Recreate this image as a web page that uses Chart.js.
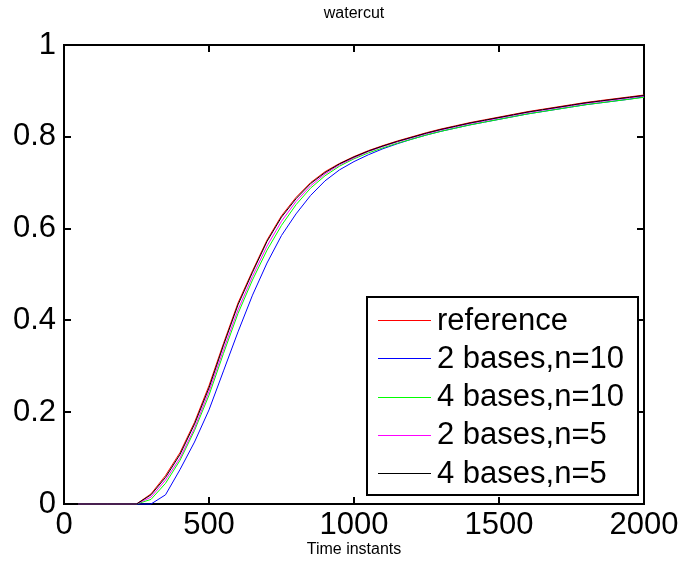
<!DOCTYPE html>
<html>
<head>
<meta charset="utf-8">
<script src="https://cdn.jsdelivr.net/npm/chart.js@4/dist/chart.umd.min.js"></script>
<style>
html,body{margin:0;padding:0;background:#fff;}
canvas{display:block;}
</style>
</head>
<body>
<canvas id="c" width="685" height="570"></canvas>
<script>
const timeInstants = [50,100,150,200,250,300,350,400,450,500,550,600,650,700,750,800,850,900,950,1000,
  1050,1100,1150,1200,1250,1300,1350,1400,1450,1500,1550,1600,1650,1700,1750,1800,1850,1900,1950,2000];

const seriesNames = ['reference','2 bases,n=10','4 bases,n=10','2 bases,n=5','4 bases,n=5'];

const reference = [0,0,0,0,0,0.022,0.062,0.112,0.178,0.258,0.350,0.438,0.508,0.575,0.628,0.668,0.700,0.724,0.742,0.757,
  0.770,0.781,0.791,0.800,0.809,0.817,0.824,0.831,0.837,0.843,0.849,0.855,0.860,0.865,0.870,0.875,0.879,0.883,0.887,0.891];
const bases2n10 = [0,0,0,0,0,0,0.020,0.075,0.135,0.205,0.290,0.375,0.455,0.525,0.585,0.632,0.672,0.704,0.728,0.746,
  0.761,0.774,0.785,0.795,0.804,0.812,0.819,0.826,0.832,0.838,0.844,0.850,0.855,0.860,0.865,0.870,0.874,0.878,0.882,0.887];
const bases4n10 = [0,0,0,0,0,0.010,0.045,0.095,0.160,0.237,0.328,0.415,0.488,0.553,0.607,0.652,0.688,0.715,0.736,0.752,
  0.765,0.776,0.786,0.795,0.804,0.812,0.819,0.826,0.832,0.838,0.844,0.850,0.855,0.860,0.865,0.870,0.874,0.878,0.882,0.886];
const bases2n5 = [0,0,0,0,0,0.015,0.052,0.100,0.165,0.245,0.336,0.423,0.496,0.562,0.616,0.659,0.693,0.719,0.739,0.754,
  0.768,0.779,0.789,0.798,0.807,0.815,0.822,0.829,0.835,0.841,0.847,0.853,0.858,0.863,0.868,0.873,0.877,0.881,0.885,0.889];
const bases4n5 = [0,0,0,0,0,0.020,0.058,0.108,0.174,0.253,0.346,0.434,0.505,0.572,0.625,0.665,0.698,0.722,0.741,0.756,
  0.769,0.780,0.790,0.799,0.808,0.816,0.823,0.830,0.836,0.842,0.848,0.854,0.859,0.864,0.869,0.874,0.878,0.882,0.886,0.890];

const xTicks = [0,500,1000,1500,2000];
const yTicks = [0,0.2,0.4,0.6,0.8,1];

const seriesValues = [reference,bases2n10,bases4n10,bases2n5,bases4n5];
const seriesColors = ['#ff0000','#0000ff','#00ff00','#ff00ff','#000000'];

const FONT = '"Liberation Sans", Arial, Helvetica, sans-serif';

const datasets = seriesValues.map((vals,i)=>({
  label: seriesNames[i],
  data: timeInstants.map((t,k)=>({x:t,y:vals[k]})),
  borderColor: seriesColors[i],
  backgroundColor: seriesColors[i],
  borderWidth: 1,
  pointRadius: 0,
  tension: 0,
  fill: false,
  order: 5 - i
}));

const framePlugin = {
  id: 'frame',
  beforeDatasetsDraw(chart){
    const ctx = chart.ctx;
    const a = chart.chartArea;
    const xs = chart.scales.x, ys = chart.scales.y;
    ctx.save();
    ctx.strokeStyle = '#000';
    ctx.lineWidth = 2;
    ctx.lineCap = 'square';
    ctx.strokeRect(a.left, a.top, a.right - a.left, a.bottom - a.top);
    const tl = 6;
    ctx.beginPath();
    xTicks.forEach(v=>{
      const px = Math.round(xs.getPixelForValue(v));
      ctx.moveTo(px, a.bottom); ctx.lineTo(px, a.bottom - tl);
      ctx.moveTo(px, a.top); ctx.lineTo(px, a.top + tl);
    });
    yTicks.forEach(v=>{
      const py = Math.round(ys.getPixelForValue(v));
      ctx.moveTo(a.left, py); ctx.lineTo(a.left + tl, py);
      ctx.moveTo(a.right, py); ctx.lineTo(a.right - tl, py);
    });
    ctx.stroke();
    ctx.restore();
  },
  afterDatasetsDraw(chart){
    const ctx = chart.ctx;
    ctx.save();
    // legend
    const lx = 367, ly = 297, lw = 271, lh = 198;
    ctx.fillStyle = '#fff';
    ctx.fillRect(lx, ly, lw, lh);
    ctx.strokeStyle = '#000';
    ctx.lineWidth = 2;
    ctx.strokeRect(lx, ly, lw, lh);
    ctx.font = '31px ' + FONT;
    ctx.textBaseline = 'middle';
    ctx.textAlign = 'left';
    const rowH = 38.3;
    chart.data.datasets.forEach((ds,i)=>{
      const cy = ly + 23 + i*rowH;
      ctx.strokeStyle = ds.borderColor;
      ctx.lineWidth = 1.2;
      ctx.beginPath();
      ctx.moveTo(lx + 11, Math.round(cy)+0.5);
      ctx.lineTo(lx + 64, Math.round(cy)+0.5);
      ctx.stroke();
      ctx.fillStyle = '#000';
      ctx.fillText(ds.label, lx + 70, cy + 1);
    });
    ctx.restore();
  }
};

new Chart(document.getElementById('c'), {
  type: 'line',
  data: { datasets },
  plugins: [framePlugin],
  options: {
    responsive: false,
    devicePixelRatio: 1,
    animation: false,
    clip: false,
    layout: { padding: { left: 0, right: 41, top: 0, bottom: 0 } },
    plugins: {
      legend: { display: false },
      tooltip: { enabled: false },
      title: {
        display: true,
        text: 'watercut',
        fullSize: false,
        color: '#000',
        font: { family: FONT, size: 16, weight: 'normal' },
        padding: { top: 4.4, bottom: 21.4 }
      }
    },
    scales: {
      x: {
        type: 'linear',
        min: 0, max: 2000,
        afterBuildTicks(scale){ scale.ticks = xTicks.map(v=>({value:v})); },
        afterFit(scale){ scale.height = 66; },
        grid: { display: false, drawTicks: false },
        border: { display: false },
        ticks: { color: '#000', font: { family: FONT, size: 31 }, padding: 3, maxRotation: 0,
          callback: v => String(v) },
        title: {
          display: true, text: 'Time instants', color: '#000',
          font: { family: FONT, size: 16 }, padding: { top: 0, bottom: 10.4 }
        }
      },
      y: {
        type: 'linear',
        min: 0, max: 1,
        afterBuildTicks(scale){ scale.ticks = yTicks.map(v=>({value:v})); },
        afterFit(scale){ scale.width = 64; },
        grid: { display: false, drawTicks: false },
        border: { display: false },
        ticks: { color: '#000', font: { family: FONT, size: 31 }, padding: 8,
          callback: v => String(v) }
      }
    }
  }
});
</script>
</body>
</html>
